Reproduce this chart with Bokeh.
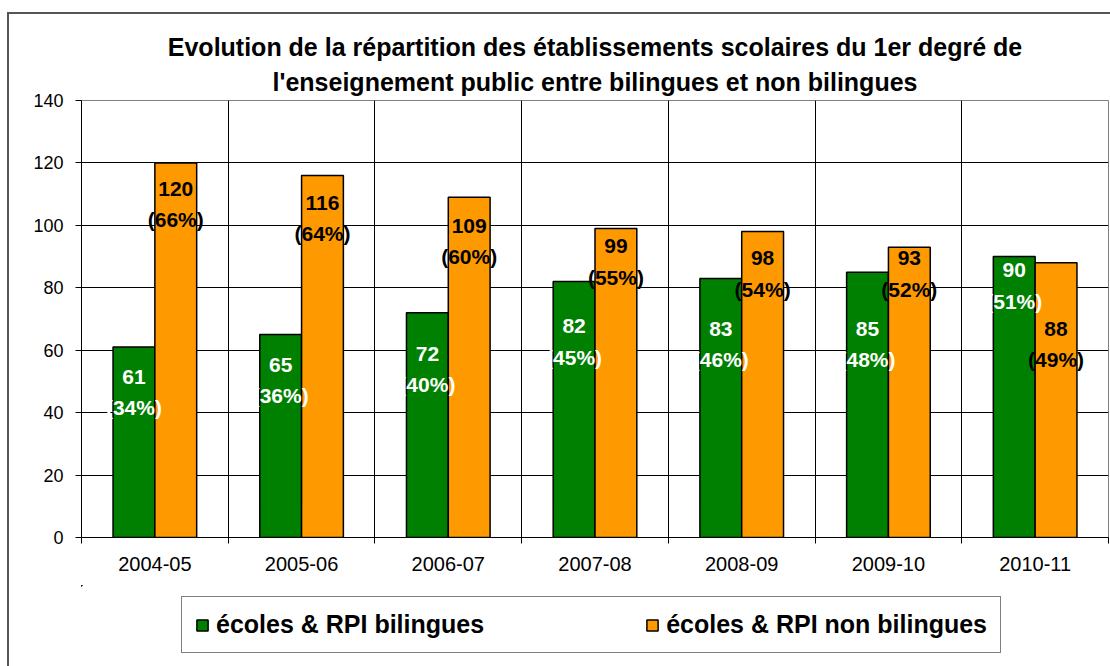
from bokeh.plotting import figure
from bokeh.layouts import column
from bokeh.models import (Range1d, FixedTicker, Legend, LegendItem, Title, ColumnDataSource)
from bokeh.core.properties import value
from bokeh.embed import file_html
from bokeh.resources import INLINE

# ---- data ----
years = ["2004-05", "2005-06", "2006-07", "2007-08", "2008-09", "2009-10", "2010-11"]
bilingues = [61, 65, 72, 82, 83, 85, 90]
non_bilingues = [120, 116, 109, 99, 98, 93, 88]
pct_bilingues = ["(34%)", "(36%)", "(40%)", "(45%)", "(46%)", "(48%)", "(51%)"]
pct_non_bilingues = ["(66%)", "(64%)", "(60%)", "(55%)", "(54%)", "(52%)", "(49%)"]
series_names = ["écoles & RPI bilingues", "écoles & RPI non bilingues"]

# label placement (first line centre, in axis units) as in the original
lab_y_bil = [51.5, 55.4, 58.9, 67.6, 66.9, 66.9, 85.6]
lab_y_non = [111.7, 107.2, 99.8, 93.3, 89.5, 89.5, 66.9]

GREEN = "#008000"
ORANGE = "#FF9900"
FONT = "Liberation Sans"
BORDER = "2px solid #555555"

n = len(years)
centers = [i + 0.5 for i in range(n)]
off = 0.1425
bw = 0.285

src_b = ColumnDataSource(dict(x=[c - off for c in centers], top=bilingues,
                              num=[str(v) for v in bilingues], pct=pct_bilingues, ly=lab_y_bil))
src_n = ColumnDataSource(dict(x=[c + off for c in centers], top=non_bilingues,
                              num=[str(v) for v in non_bilingues], pct=pct_non_bilingues, ly=lab_y_non))

p = figure(frame_width=1025, frame_height=435, x_range=Range1d(0, n), y_range=Range1d(0, 140),
           output_backend="svg", toolbar_location=None,
           min_border_left=72, min_border_right=6, min_border_top=86, min_border_bottom=50,
           margin=(12, 0, 0, 7),
           styles={"border-left": BORDER, "border-top": BORDER})
p.background_fill_color = "white"
p.border_fill_color = "white"
p.outline_line_color = "#808080"
p.outline_line_width = 1

# titles (p.title is the upper line; the added one sits next to the frame)
p.title.text = "Evolution de la répartition des établissements scolaires du 1er degré de"
p.title.align = "center"
p.title.text_font = FONT
p.title.text_font_size = "25px"
p.title.text_font_style = "bold"
p.title.text_color = "black"
p.title.standoff = 0
t2 = Title(text="l'enseignement public entre bilingues et non bilingues",
           align="center", text_font=FONT, text_font_size="25px", text_font_style="bold",
           text_color="black", standoff=10)
p.add_layout(t2, "above")

# grid
p.ygrid.ticker = FixedTicker(ticks=list(range(0, 141, 20)))
p.ygrid.grid_line_color = "black"
p.ygrid.grid_line_width = 1
p.xgrid.ticker = FixedTicker(ticks=list(range(1, n)))
p.xgrid.grid_line_color = "black"
p.xgrid.grid_line_width = 1

# axes
p.yaxis.ticker = FixedTicker(ticks=list(range(0, 141, 20)))
p.yaxis.major_tick_out = 6
p.yaxis.major_tick_in = 0
p.yaxis.minor_tick_line_color = None
p.yaxis.axis_line_color = "black"
p.yaxis.major_tick_line_color = "black"
p.yaxis.major_label_text_font = FONT
p.yaxis.major_label_text_font_size = "18px"
p.yaxis.major_label_text_color = "black"
p.yaxis.major_label_standoff = 12

p.xaxis.ticker = FixedTicker(ticks=centers, minor_ticks=list(range(0, n + 1)))
p.xaxis.major_label_overrides = {c: y for c, y in zip(centers, years)}
p.xaxis.major_tick_out = 0
p.xaxis.major_tick_in = 0
p.xaxis.minor_tick_out = 6
p.xaxis.minor_tick_in = 0
p.xaxis.minor_tick_line_color = "black"
p.xaxis.axis_line_color = "black"
p.xaxis.major_label_text_font = FONT
p.xaxis.major_label_text_font_size = "20px"
p.xaxis.major_label_text_color = "black"
p.xaxis.major_label_standoff = 13

# bars
p.vbar(x="x", top="top", width=bw, source=src_b, fill_color=GREEN, line_color="black", line_width=1.5)
p.vbar(x="x", top="top", width=bw, source=src_n, fill_color=ORANGE, line_color="black", line_width=1.5)

# data labels
for src, col in ((src_b, "white"), (src_n, "black")):
    p.text(x="x", y="ly", text="num", source=src, text_align="center", text_baseline="middle",
           text_font=value(FONT), text_font_size="21px", text_font_style="bold", text_color=col)
    p.text(x="x", y="ly", text="pct", source=src, text_align="center", text_baseline="middle",
           y_offset=31,
           text_font=value(FONT), text_font_size="21px", text_font_style="bold", text_color=col)

# ---- legend strip below the chart (its frame is aligned with the chart's frame) ----
lg = figure(width=1103, height=81, x_range=Range1d(50, 57), y_range=Range1d(-2, -1),
            output_backend="svg", toolbar_location=None, x_axis_type=None, y_axis_type=None,
            min_border=0, margin=(0, 0, 0, 7), styles={"border-left": BORDER})
lg.outline_line_color = None
lg.background_fill_color = "white"
lg.border_fill_color = "white"
lg.grid.visible = False
# same series, placed outside this strip's visible ranges, only to provide the legend swatches
kb = lg.vbar(x="x", top="top", width=bw, source=src_b, fill_color=GREEN, line_color="black", line_width=1.5)
kn = lg.vbar(x="x", top="top", width=bw, source=src_n, fill_color=ORANGE, line_color="black", line_width=1.5)

legend = Legend(items=[LegendItem(label=series_names[0], renderers=[kb]),
                       LegendItem(label=series_names[1], renderers=[kn])],
                orientation="horizontal", location=(100, 13))
legend.label_text_font = FONT
legend.label_text_font_size = "25px"
legend.label_text_font_style = "bold"
legend.label_text_color = "black"
legend.glyph_width = 14
legend.glyph_height = 14
legend.label_standoff = 7
legend.spacing = 161
legend.padding = 13
legend.margin = 0
legend.border_line_color = "black"
legend.border_line_width = 1.5
legend.background_fill_alpha = 1
lg.add_layout(legend, "center")

layout = column(p, lg, spacing=0)
open("out.html", "w").write(file_html(layout, INLINE))
